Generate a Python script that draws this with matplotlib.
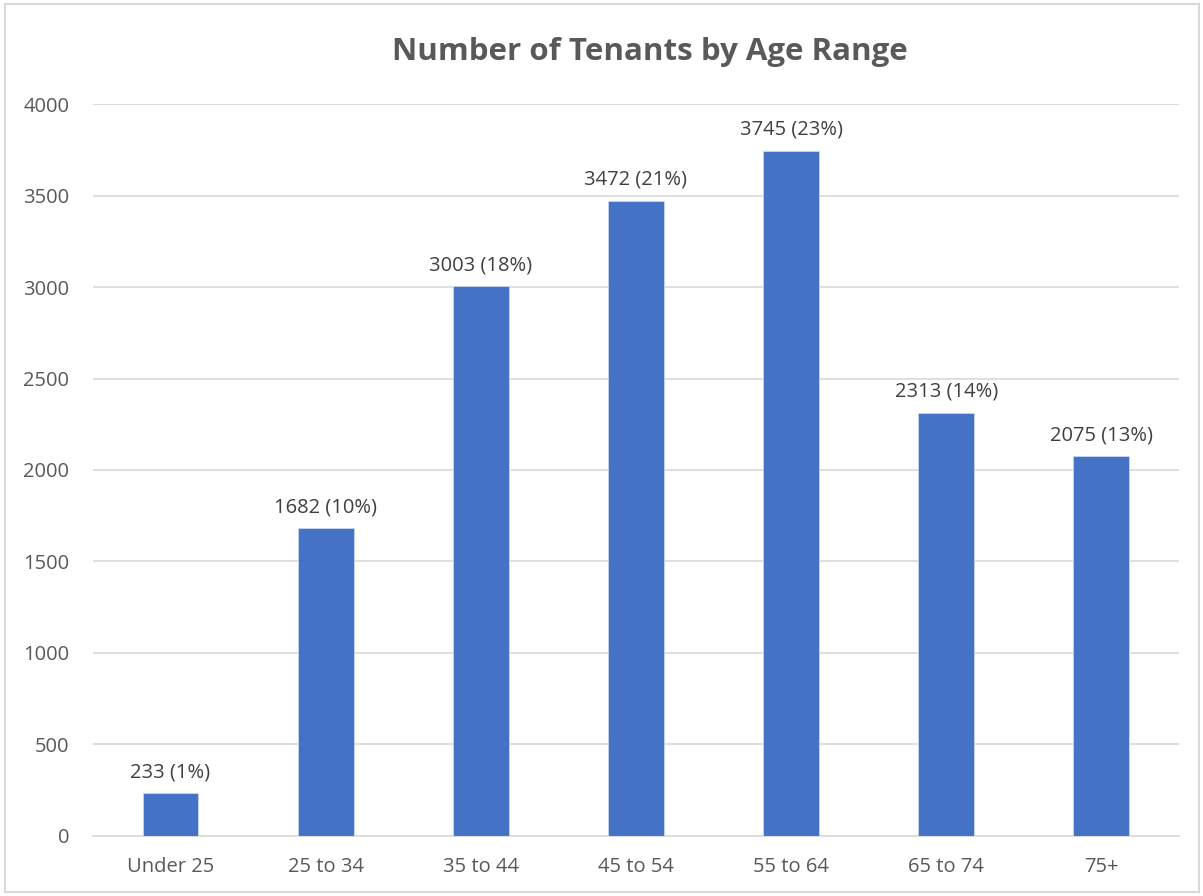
import matplotlib.pyplot as plt
from matplotlib.patches import Rectangle

categories = ["Under 25", "25 to 34", "35 to 44", "45 to 54", "55 to 64", "65 to 74", "75+"]
tenants = [233, 1682, 3003, 3472, 3745, 2313, 2075]
percents = [1, 10, 18, 21, 23, 14, 13]
yticks = [0, 500, 1000, 1500, 2000, 2500, 3000, 3500, 4000]

plt.rcParams['font.family'] = ['Open Sans', 'DejaVu Sans']

fig = plt.figure(figsize=(12.03, 8.96), dpi=100)
ax = fig.add_axes([0.0773, 0.067, 0.9027, 0.8169])

x = range(len(categories))
ax.bar(x, tenants, width=0.36, color='#4472C4', edgecolor='#C9D6EE', linewidth=0.6, zorder=3)

for i, (v, p) in enumerate(zip(tenants, percents)):
    ax.annotate(f"{v} ({p}%)", (i, v), xytext=(0, 8), textcoords='offset points',
                ha='center', va='bottom', fontsize=14.5, color='#404040')

ax.set_xlim(-0.5, len(categories) - 0.5)
ax.set_ylim(0, 4000)
ax.set_yticks(yticks)
ax.set_xticks(list(x))
ax.set_xticklabels(categories)
ax.tick_params(axis='both', length=0, labelsize=14.5, colors='#595959')
ax.tick_params(axis='y', pad=17)
ax.tick_params(axis='x', pad=15)
ax.grid(axis='y', color='#D9D9D9', linewidth=1.2, zorder=0)
for s in ['top', 'right', 'left']:
    ax.spines[s].set_visible(False)
ax.spines['bottom'].set_color('#D9D9D9')
ax.spines['bottom'].set_linewidth(1.2)

fig.text(0.54, 0.942, "Number of Tenants by Age Range", ha='center', va='center',
         fontsize=22.5, fontweight='bold', color='#595959')

fig.patches.append(Rectangle((0.004, 0.004), 0.993, 0.991, transform=fig.transFigure,
                             fill=False, edgecolor='#D9D9D9', linewidth=1.5))

plt.savefig("out.png", dpi=100)
